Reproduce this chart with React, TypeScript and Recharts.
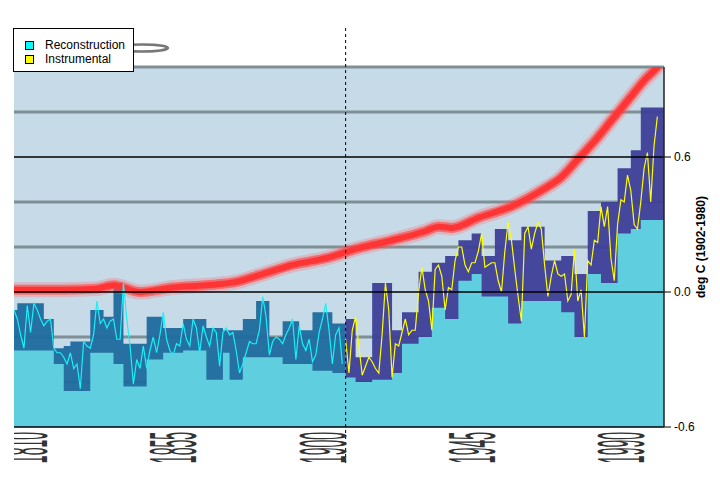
import React from 'react';
import { ComposedChart, Area, Line, XAxis, YAxis, CartesianGrid, ReferenceLine } from 'recharts';

// annual reconstruction, 1800-1899
const reconStart = 1800;
const reconValues = [
  -0.08, -0.12, -0.19, -0.25, -0.06, -0.18, -0.05, -0.08, -0.12, -0.15,
  -0.13, -0.12, -0.25, -0.27, -0.27, -0.29, -0.32, -0.27, -0.34, -0.32,
  -0.43, -0.22, -0.24, -0.25, -0.19, -0.04, -0.14, -0.12, -0.16, -0.13,
  -0.12, -0.21, -0.21, 0.04, -0.12, -0.24, -0.41, -0.30, -0.34, -0.24,
  -0.34, -0.26, -0.20, -0.27, -0.19, -0.09, -0.21, -0.26, -0.28, -0.23,
  -0.24, -0.14, -0.21, -0.24, -0.12, -0.16, -0.27, -0.15, -0.20, -0.24,
  -0.16, -0.18, -0.33, -0.18, -0.16, -0.19, -0.18, -0.26, -0.36, -0.32,
  -0.27, -0.22, -0.23, -0.23, -0.17, -0.02, -0.11, -0.28, -0.22, -0.20,
  -0.21, -0.23, -0.19, -0.16, -0.12, -0.30, -0.15, -0.23, -0.26, -0.21,
  -0.31, -0.28, -0.18, -0.12, -0.05, -0.17, -0.32, -0.19, -0.16, -0.32,
];

// instrumental record, 1900-1994
const instStart = 1900;
const instValues = [
  -0.21, -0.36, -0.17, -0.11, -0.24, -0.37, -0.33, -0.29, -0.31, -0.34,
  -0.36, -0.19, 0.04, -0.08, -0.38, -0.23, -0.24, -0.18, -0.12, -0.19,
  -0.17, -0.17, 0.0, 0.11, 0.01, -0.04, -0.17, 0.10, 0.12, 0.07,
  -0.08, 0.02, 0.01, 0.14, 0.20, 0.20, 0.12, 0.09, 0.13, 0.13,
  0.18, 0.26, 0.11, 0.12, 0.13, 0.13, 0.05, 0.0, 0.18, 0.31,
  0.23, 0.10, -0.02, -0.13, 0.26, 0.29, 0.19, 0.26, 0.31, 0.28,
  0.12, -0.02, 0.07, 0.14, 0.08, 0.07, 0.08, -0.04, -0.01, 0.19,
  -0.04, 0.01, -0.20, 0.14, 0.12, 0.23, 0.22, 0.38, 0.29, 0.38,
  0.15, 0.05, 0.30, 0.41, 0.40, 0.52, 0.45, 0.30, 0.28, 0.40,
  0.55, 0.62, 0.40, 0.65, 0.78,
];

// stepped uncertainty band (block start years)
const bandYears = [
  1800, 1801, 1809, 1812, 1815, 1817, 1823, 1827, 1830, 1833, 1840, 1845, 1851, 1858, 1863, 1865,
  1869, 1873, 1877, 1881, 1886, 1890, 1896, 1900, 1903, 1908, 1914, 1917, 1922, 1926, 1930, 1934,
  1938, 1941, 1945, 1949, 1953, 1960, 1965, 1969, 1973, 1977, 1982, 1986, 1989, 1996,
];
const bandUpper = [
  -0.08, -0.05, -0.12, -0.25, -0.24, -0.22, -0.08, -0.11, 0.04, -0.23, -0.11, -0.16, -0.12, -0.16, -0.17, -0.17,
  -0.12, -0.04, -0.2, -0.13, -0.17, -0.09, -0.14, -0.12, -0.29, 0.04, -0.17, -0.09, 0.09, 0.13, 0.16, 0.23,
  0.26, 0.16, 0.28, 0.23, 0.29, 0.14, 0.16, 0.08, 0.36, 0.4, 0.55, 0.63, 0.82, 0.82,
];
const bandLower = [
  -0.26, -0.26, -0.26, -0.32, -0.44, -0.44, -0.27, -0.27, -0.32, -0.42, -0.3, -0.27, -0.26, -0.39, -0.27, -0.39,
  -0.29, -0.29, -0.29, -0.32, -0.32, -0.35, -0.36, -0.38, -0.4, -0.39, -0.36, -0.23, -0.2, -0.07, -0.12, 0.05,
  0.08, -0.02, -0.02, -0.14, -0.04, -0.04, -0.09, -0.2, 0.08, 0.04, 0.26, 0.28, 0.32, 0.32,
];

// smooth red curve
const trendYears = [1800, 1815, 1825, 1830, 1838, 1848, 1858, 1867, 1874, 1884, 1894, 1904, 1914, 1924, 1928, 1932, 1940, 1950, 1960, 1965, 1970, 1975, 1980, 1985, 1990, 1994, 1997];
const trendValues = [0.01, 0.01, 0.015, 0.03, 0.0, 0.02, 0.03, 0.045, 0.075, 0.12, 0.15, 0.195, 0.23, 0.27, 0.29, 0.285, 0.33, 0.38, 0.46, 0.51, 0.59, 0.67, 0.76, 0.85, 0.94, 1.0, 1.06];

const xTicks = [1810, 1855, 1900, 1945, 1990];
const yTicks = [-0.6, 0, 0.6];
const gridValues = [-0.4, -0.2, 0.2, 0.4, 0.8, 1.0];

const FONT = 'Arial, "Liberation Sans", sans-serif';

const reconData = reconValues.map((v, i) => ({ year: reconStart + i, v }));
const instData = instValues.map((v, i) => ({ year: instStart + i, v }));
const bandAll = bandYears.map((year, i) => ({ year, up: bandUpper[i], low: bandLower[i] }));
const bandPre = bandAll.filter(d => d.year < 1900);
bandPre.push({ ...bandPre[bandPre.length - 1], year: 1900 });
const bandPost = bandAll.filter(d => d.year >= 1900);
const trendData = trendYears.map((year, i) => ({ year, v: trendValues[i] }));

// year labels: rotated, squeezed along the text and stretched across it
const YearTick = ({ x, y, payload }: any) => (
  <g clipPath="url(#tickClip)">
    <defs>
      <clipPath id="tickClip" clipPathUnits="userSpaceOnUse">
        <rect x={14} y={0} width={720} height={480} />
      </clipPath>
    </defs>
    <g transform={`translate(${x},${y - 3}) rotate(-90)`}>
      <text x={0} y={0} textAnchor="end" transform="scale(1,4.8)" fontSize={14} fill="#333" fontFamily={FONT}>
        {payload.value}
      </text>
    </g>
  </g>
);

const AxisTitle = ({ viewBox }: any) => {
  const cx = viewBox.x + 37;
  const cy = viewBox.y + viewBox.height / 2;
  return (
    <text x={cx} y={cy} transform={`rotate(-90 ${cx} ${cy})`} textAnchor="middle" dominantBaseline="central"
      fontSize={12} fontWeight="bold" fontFamily={FONT} fill="#000">
      deg C (1902-1980)
    </text>
  );
};

const LongDash = (p: any) => {
  const top = Math.min(p.y1, p.y2);
  const bottom = Math.max(p.y1, p.y2);
  return <line x1={p.x1} x2={p.x2} y1={top - 39} y2={bottom + 38} stroke="#000" strokeWidth={1} strokeDasharray="3 3" />;
};

const Swatch = ({ color }: { color: string }) => (
  <span style={{ display: 'inline-block', width: 7, height: 7, background: color, border: '1px solid #000', marginRight: 11 }} />
);

export default function App() {
  return (
    <div style={{ position: 'relative', width: 720, height: 480, background: '#fff', fontFamily: FONT }}>
      <style>{'body{margin:0}'}</style>
      <ComposedChart width={720} height={480} margin={{ top: 67, right: 0, bottom: 0, left: 14 }}>
        <CartesianGrid vertical={false} horizontalValues={gridValues} stroke="#7f8f96" strokeWidth={3} fill="#c7dae8" />
        <XAxis type="number" dataKey="year" domain={[1800, 1996]} allowDataOverflow ticks={xTicks}
          height={53} tickLine={false} axisLine={{ stroke: '#000', strokeWidth: 1.5 }} tick={<YearTick />} interval={0} />
        <YAxis orientation="right" type="number" domain={[-0.6, 1.0]} allowDataOverflow ticks={yTicks} width={56}
          tickSize={7} tickMargin={3} axisLine={{ stroke: '#222', strokeWidth: 1.5 }} tickLine={{ stroke: '#000' }}
          tick={{ fontSize: 12, fill: '#000', fontFamily: FONT }}
          tickFormatter={(v: number) => v.toFixed(1)} label={<AxisTitle />} />
        <Area data={bandPre} dataKey="up" type="stepAfter" baseValue="dataMin" fill="#1e6b9d" fillOpacity={0.95} stroke="none" isAnimationActive={false} />
        <Area data={bandPost} dataKey="up" type="stepAfter" baseValue="dataMin" fill="#3e3f98" fillOpacity={0.95} stroke="none" isAnimationActive={false} />
        <Area data={bandAll} dataKey="low" type="stepAfter" baseValue="dataMin" fill="#5fcfdf" fillOpacity={1} stroke="none" isAnimationActive={false} />
        <Line data={trendData} dataKey="v" type="monotone" stroke="#ff6a6a" strokeOpacity={0.3} strokeWidth={15} dot={false} isAnimationActive={false} />
        <Line data={trendData} dataKey="v" type="monotone" stroke="#ff4040" strokeOpacity={0.6} strokeWidth={10} dot={false} isAnimationActive={false} />
        <Line data={trendData} dataKey="v" type="monotone" stroke="#ff3434" strokeWidth={6} dot={false} isAnimationActive={false} />
        <Line data={reconData} dataKey="v" type="linear" stroke="#19f0f7" strokeWidth={1.2} dot={false} isAnimationActive={false} />
        <Line data={instData} dataKey="v" type="linear" stroke="#ffff00" strokeWidth={1.2} dot={false} isAnimationActive={false} />
        <ReferenceLine y={0.6} stroke="#000" strokeWidth={1.5} />
        <ReferenceLine y={0} stroke="#000" strokeWidth={1.5} />
        <ReferenceLine x={1900} shape={<LongDash />} />
      </ComposedChart>
      <svg width={60} height={20} style={{ position: 'absolute', left: 120, top: 38 }}>
        <ellipse cx={22} cy={10} rx={26} ry={3.5} fill="none" stroke="#555" strokeWidth={2.5} opacity={0.8} />
      </svg>
      <div style={{ position: 'absolute', left: 13, top: 28, width: 119, height: 42, background: '#fff', border: '1px solid #000', fontSize: 12, lineHeight: '14px', color: '#000' }}>
        <div style={{ position: 'absolute', left: 11, top: 9, display: 'flex', alignItems: 'center' }}>
          <Swatch color="#00ffff" />Reconstruction
        </div>
        <div style={{ position: 'absolute', left: 11, top: 23, display: 'flex', alignItems: 'center' }}>
          <Swatch color="#ffff00" />Instrumental
        </div>
      </div>
    </div>
  );
}
